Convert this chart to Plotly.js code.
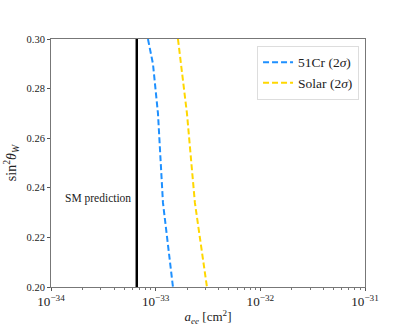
<!DOCTYPE html>
<html>
<head>
<meta charset="utf-8">
<script src="https://cdn.plot.ly/plotly-3.0.1.min.js"></script>
<style>
  html, body { margin: 0; padding: 0; background: #fff; }
  #chart { width: 407px; height: 326px; }
</style>
</head>
<body>
<div id="chart"></div>
<script>
// values
var smValue = 6.6e-34;
var smY = [0.20, 0.30];

var crY = [0.30, 0.29, 0.27, 0.234, 0.20];
var crX = [8.44e-34, 9.42e-34, 1.052e-33, 1.174e-33, 1.463e-33];

var solarY = [0.30, 0.27, 0.234, 0.20];
var solarX = [1.633e-33, 1.99e-33, 2.37e-33, 3.09e-33];

var serif = '"Liberation Serif", serif';

var traceSM = {
    x: [smValue, smValue],
    y: smY,
    mode: 'lines',
    showlegend: false,
    line: {color: 'black', width: 2.5},
    hoverinfo: 'skip'
};

var traceCr = {
    x: crX,
    y: crY,
    mode: 'lines',
    name: '51Cr (2<i>σ</i>)',
    line: {color: '#1e90ff', width: 2, dash: '6px,3px'}
};

var traceSolar = {
    x: solarX,
    y: solarY,
    mode: 'lines',
    name: 'Solar (2<i>σ</i>)',
    line: {color: '#ffd700', width: 2, dash: '6px,3px'}
};

var layout = {
    width: 407,
    height: 326,
    margin: {l: 51, r: 42, t: 39, b: 39},
    paper_bgcolor: 'white',
    plot_bgcolor: 'white',
    font: {family: serif, color: '#222', size: 10},
    xaxis: {
        type: 'log',
        range: [-34, -31],
        dtick: 1,
        exponentformat: 'power',
        showgrid: false,
        zeroline: false,
        showline: true,
        mirror: true,
        linecolor: '#777',
        linewidth: 1,
        ticks: 'outside',
        ticklen: 3,
        tickcolor: '#555',
        tickfont: {size: 10.5, family: serif},
        minor: {ticks: 'outside', ticklen: 2, dtick: 'D1', tickcolor: '#777', showgrid: false},
        title: {text: '<i>a<sub>ee</sub></i> [cm<sup>2</sup>]', font: {size: 13, family: serif}, standoff: 4},
        fixedrange: true
    },
    yaxis: {
        range: [0.20, 0.30],
        dtick: 0.02,
        tickformat: '.2f',
        showgrid: false,
        zeroline: false,
        showline: true,
        mirror: true,
        linecolor: '#777',
        linewidth: 1,
        ticks: 'outside',
        ticklen: 3,
        tickcolor: '#555',
        tickfont: {size: 10.5, family: serif},
        title: {text: 'sin<sup>2</sup><i>θ<sub>W</sub></i>', font: {size: 14, family: serif}, standoff: 6},
        fixedrange: true
    },
    showlegend: true,
    legend: {
        x: 0.981,
        y: 0.972,
        xanchor: 'right',
        yanchor: 'top',
        bgcolor: 'white',
        bordercolor: '#ddd',
        borderwidth: 1,
        font: {size: 13.5, family: serif},
        tracegroupgap: 2
    },
    annotations: [{
        x: Math.log10(smValue),
        y: 0.2355,
        xref: 'x',
        yref: 'y',
        text: 'SM prediction',
        showarrow: false,
        xanchor: 'right',
        xshift: -4,
        font: {size: 11.5, family: serif, color: '#222'}
    }]
};

var data = [traceSM, traceCr, traceSolar];
Plotly.newPlot('chart', data, layout, {displayModeBar: false, staticPlot: true});
</script>
</body>
</html>
